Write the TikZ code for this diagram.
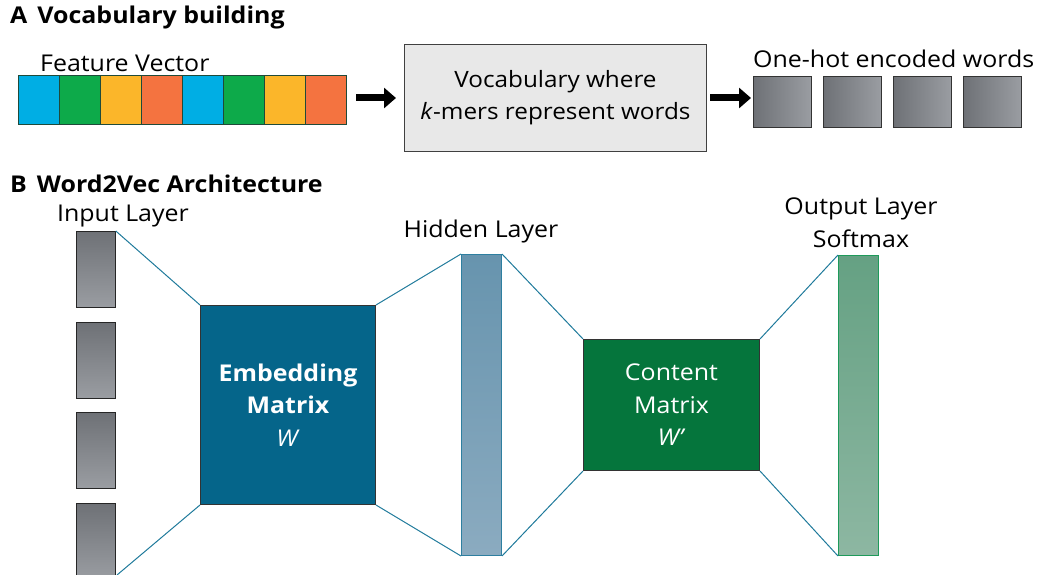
\documentclass[tikz,border=0pt]{standalone}
\usepackage{fontspec}
\setmainfont[FakeStretch=1.08]{Open Sans}
\usetikzlibrary{arrows.meta}
\definecolor{cblue}{HTML}{00AEE4}
\definecolor{cgreen}{HTML}{0DAA4A}
\definecolor{cyellow}{HTML}{FBB62A}
\definecolor{corange}{HTML}{F47340}
\definecolor{fvborder}{HTML}{1F4A3A}
\definecolor{embfill}{HTML}{05658A}
\definecolor{confill}{HTML}{05753C}
\definecolor{linkc}{HTML}{1F7A9B}
\definecolor{ohdark}{HTML}{6E7176}
\definecolor{ohlight}{HTML}{9A9DA2}
\definecolor{hidtop}{HTML}{6794AE}
\definecolor{hidbot}{HTML}{8BABC0}
\definecolor{hidborder}{HTML}{2E7FA0}
\definecolor{outtop}{HTML}{65A183}
\definecolor{outbot}{HTML}{8DB7A2}
\definecolor{outborder}{HTML}{1E9A5A}
\definecolor{vocfill}{HTML}{E8E8E8}
\tikzset{
  lbl/.style={font=\fontsize{23.1}{26}\selectfont, inner sep=0pt},
  ttl/.style={font=\fontsize{23.1}{26}\selectfont\bfseries, inner sep=0pt, anchor=west},
  fvbox/.style={draw=fvborder, line width=1pt, minimum width=41pt, minimum height=49pt, inner sep=0pt, anchor=north west},
  ohbox/.style={draw=black!80, line width=0.8pt, left color=ohdark, right color=ohlight, minimum width=58pt, minimum height=51pt, inner sep=0pt, anchor=north west},
  inbox/.style={draw=black!85, line width=0.8pt, top color=ohdark, bottom color=ohlight, minimum width=39pt, minimum height=76pt, inner sep=0pt, anchor=north west},
  bigarrow/.style={-{Triangle[length=12pt,width=20pt]}, line width=7pt, black},
  link/.style={draw=linkc, line width=1pt},
  mtx/.style={draw=black!80, line width=1pt, text=white, inner sep=0pt, anchor=north west, align=center, font=\fontsize{23.1}{32.5}\selectfont},
}
\begin{document}
\begin{tikzpicture}[x=1pt,y=-1pt]
\useasboundingbox (0,0) rectangle (1037,575);
% Titles
\node[ttl] (tA) at (10,18) {A\hspace{10pt}Vocabulary building};
\node[ttl] (tB) at (10,184) {B\hspace{10pt}Word2Vec Architecture};
% Feature vector
\node[lbl, anchor=base west] (fvl) at (40,72) {Feature Vector};
\node[fvbox, fill=cblue]   (f1) at (18,75) {};
\node[fvbox, fill=cgreen]  (f2) at (59,75) {};
\node[fvbox, fill=cyellow] (f3) at (100,75) {};
\node[fvbox, fill=corange] (f4) at (141,75) {};
\node[fvbox, fill=cblue]   (f5) at (182,75) {};
\node[fvbox, fill=cgreen]  (f6) at (223,75) {};
\node[fvbox, fill=cyellow] (f7) at (264,75) {};
\node[fvbox, fill=corange] (f8) at (305,75) {};
% Vocabulary box
\node[draw=black!75, line width=1pt, fill=vocfill, minimum width=302pt, minimum height=107pt, anchor=north west, align=center, font=\fontsize{22.5}{32}\selectfont] (voc) at (404,44) {Vocabulary where\\\textit{k}-mers represent words};
% One-hot
\node[lbl, anchor=base west] (ohl) at (753,68) {One-hot encoded words};
\node[ohbox] (o1) at (753,76) {};
\node[ohbox] (o2) at (823,76) {};
\node[ohbox] (o3) at (893,76) {};
\node[ohbox] (o4) at (963,76) {};
% arrows
\draw[bigarrow, shorten <=9pt, shorten >=8pt] (f8.east |- voc.west) -- (voc.west);
\draw[bigarrow, shorten <=3pt, shorten >=2pt] (voc.east) -- (o1.west |- voc.east);
% Input layer
\node[lbl] (inl) at (123,216) {Input Layer};
\node[inbox] (i1) at (76,231) {};
\node[inbox] (i2) at (76,322) {};
\node[inbox] (i3) at (76,412) {};
\node[inbox] (i4) at (76,503) {};
% Embedding matrix
\node[mtx, fill=embfill, minimum width=175pt, minimum height=199pt] (emb) at (200,305) {\textbf{Embedding}\\\textbf{Matrix}\\\textit{W}};
% Hidden
\node[lbl] (hidl) at (481,231) {Hidden Layer};
\node[draw=hidborder, line width=1pt, top color=hidtop, bottom color=hidbot, minimum width=40pt, minimum height=301pt, inner sep=0pt, anchor=north west] (hid) at (461,254) {};
% Content matrix
\node[mtx, fill=confill, minimum width=176pt, minimum height=131pt] (con) at (583,339) {Content\\Matrix\\\textit{W’}};
% Output
\node[lbl, align=center, font=\fontsize{23.1}{33}\selectfont] (outl) at (861,223) {Output Layer\\Softmax};
\node[draw=outborder, line width=1pt, top color=outtop, bottom color=outbot, minimum width=40pt, minimum height=300pt, inner sep=0pt, anchor=north west] (out) at (838,255) {};
% links
\coordinate (i4e) at (117,575);
\draw[link] (i1.north east) -- (emb.north west);
\draw[link] (i4e) -- (emb.south west);
\draw[link] (emb.north east) -- (hid.north west);
\draw[link] (emb.south east) -- (hid.south west);
\draw[link] (hid.north east) -- (con.north west);
\draw[link] (hid.south east) -- (con.south west);
\draw[link] (con.north east) -- (out.north west);
\draw[link] (con.south east) -- (out.south west);
\end{tikzpicture}
\end{document}
